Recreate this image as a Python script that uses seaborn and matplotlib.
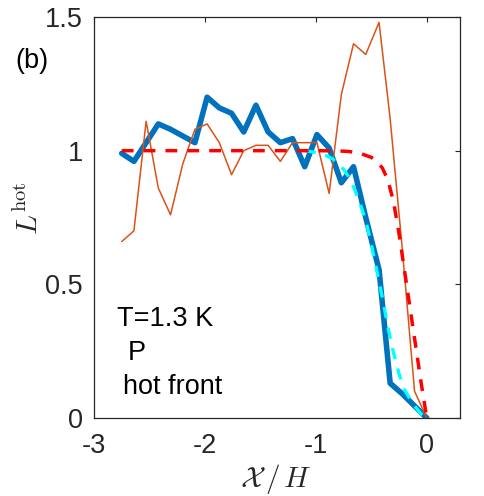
import matplotlib
matplotlib.use("Agg")
import matplotlib.pyplot as plt
import numpy as np
import pandas as pd
import seaborn as sns

# Measured hot-front profile (thick blue) and a second run (thin orange)
x_meas = [-2.75, -2.64, -2.53, -2.42, -2.31, -2.20, -2.09, -1.98, -1.87, -1.76,
          -1.65, -1.54, -1.43, -1.32, -1.21, -1.10, -0.99, -0.88, -0.77, -0.66,
          -0.55, -0.43, -0.33, -0.22, -0.11, 0.0]
l_blue = [0.99, 0.96, 1.03, 1.10, 1.08, 1.055, 1.03, 1.20, 1.16, 1.14,
          1.07, 1.17, 1.07, 1.03, 1.045, 0.94, 1.06, 1.01, 0.88, 0.94,
          0.75, 0.555, 0.13, 0.09, 0.045, 0.0]
l_orange = [0.66, 0.70, 1.11, 0.86, 0.76, 0.95, 1.08, 1.10, 1.03, 0.91,
            1.00, 1.02, 1.02, 0.96, 1.03, 1.03, 1.03, 0.84, 1.21, 1.40,
            1.36, 1.48, 1.12, 0.63, 0.10, 0.0]

# Model curves (red and cyan dashed)
x_red = [-2.75, -1.0, -0.8, -0.7, -0.6, -0.5, -0.45, -0.4, -0.35, -0.3,
         -0.25, -0.2, -0.15, -0.1, -0.05, 0.0]
l_red = [1.0, 1.0, 0.999, 0.997, 0.99, 0.975, 0.96, 0.935, 0.89, 0.81,
         0.69, 0.55, 0.41, 0.27, 0.13, 0.0]
x_cyan = [-1.10, -0.95, -0.85, -0.75, -0.70, -0.65, -0.60, -0.55, -0.50, -0.45,
          -0.40, -0.35, -0.30, -0.25, -0.20, -0.15, -0.10, -0.05, 0.0]
l_cyan = [1.0, 0.99, 0.97, 0.93, 0.90, 0.855, 0.80, 0.74, 0.65, 0.55,
          0.45, 0.34, 0.245, 0.165, 0.105, 0.07, 0.04, 0.015, 0.0]

x_ticks = [-3, -2, -1, 0]
y_ticks = [0, 0.5, 1, 1.5]
y_tick_labels = ["0", "0.5", "1", "1.5"]

sns.set_style("white")
plt.rcParams["font.family"] = ["Liberation Sans", "DejaVu Sans"]
plt.rcParams["mathtext.fontset"] = "cm"

fig = plt.figure(figsize=(4.85, 4.96), dpi=100)
ax = fig.add_axes([0.1938, 0.1573, 0.7547, 0.8084])

df_meas = pd.DataFrame({"x": x_meas, "blue": l_blue, "orange": l_orange})
df_red = pd.DataFrame({"x": x_red, "y": l_red})
df_cyan = pd.DataFrame({"x": x_cyan, "y": l_cyan})

sns.lineplot(data=df_meas, x="x", y="blue", ax=ax, color="#0072BD",
             linewidth=4.0, estimator=None, sort=False)
sns.lineplot(data=df_meas, x="x", y="orange", ax=ax, color="#D95319",
             linewidth=1.1, estimator=None, sort=False)
sns.lineplot(data=df_cyan, x="x", y="y", ax=ax, color="#00FFFF",
             linewidth=2.4, estimator=None, sort=False, dashes=False,
             linestyle=(0, (3.4, 2.9)))
sns.lineplot(data=df_red, x="x", y="y", ax=ax, color="#FF0000",
             linewidth=2.5, estimator=None, sort=False, dashes=False,
             linestyle=(0, (3.4, 2.9)))

ax.set_xlim(-3, 0.3)
ax.set_ylim(0, 1.5)
ax.set_xticks(x_ticks)
ax.set_xticklabels([str(v) for v in x_ticks])
ax.set_yticks(y_ticks)
ax.set_yticklabels(y_tick_labels)

edge = "#262626"
for s in ax.spines.values():
    s.set_visible(True)
    s.set_color(edge)
    s.set_linewidth(0.9)
ax.tick_params(axis="both", which="major", direction="in", length=3.5,
               width=0.8, color=edge, labelcolor=edge, labelsize=19.5,
               top=True, right=True)
ax.tick_params(axis="x", pad=11)
ax.tick_params(axis="y", pad=8)

ax.set_xlabel(r"$\mathcal{X}\,/\,H$", fontsize=21, color=edge, va="center")
ax.xaxis.set_label_coords(0.496, -0.152)
ax.set_ylabel(r"$L^{\rm hot}$", fontsize=21, color=edge, va="center")
ax.yaxis.set_label_coords(-0.178, 0.524)

ax.text(-2.79, 0.344, "T=1.3 K", fontsize=19.5, color="black", ha="left", va="baseline")
ax.text(-2.70, 0.217, "P", fontsize=19.5, color="black", ha="left", va="baseline")
ax.text(-2.735, 0.09, "hot front", fontsize=19.5, color="black", ha="left", va="baseline")

fig.text(31.5 / 485, 1 - 61 / 496, "(b)", fontsize=19.5, color="black",
         ha="center", va="center")

fig.savefig("out.png", dpi=100)
